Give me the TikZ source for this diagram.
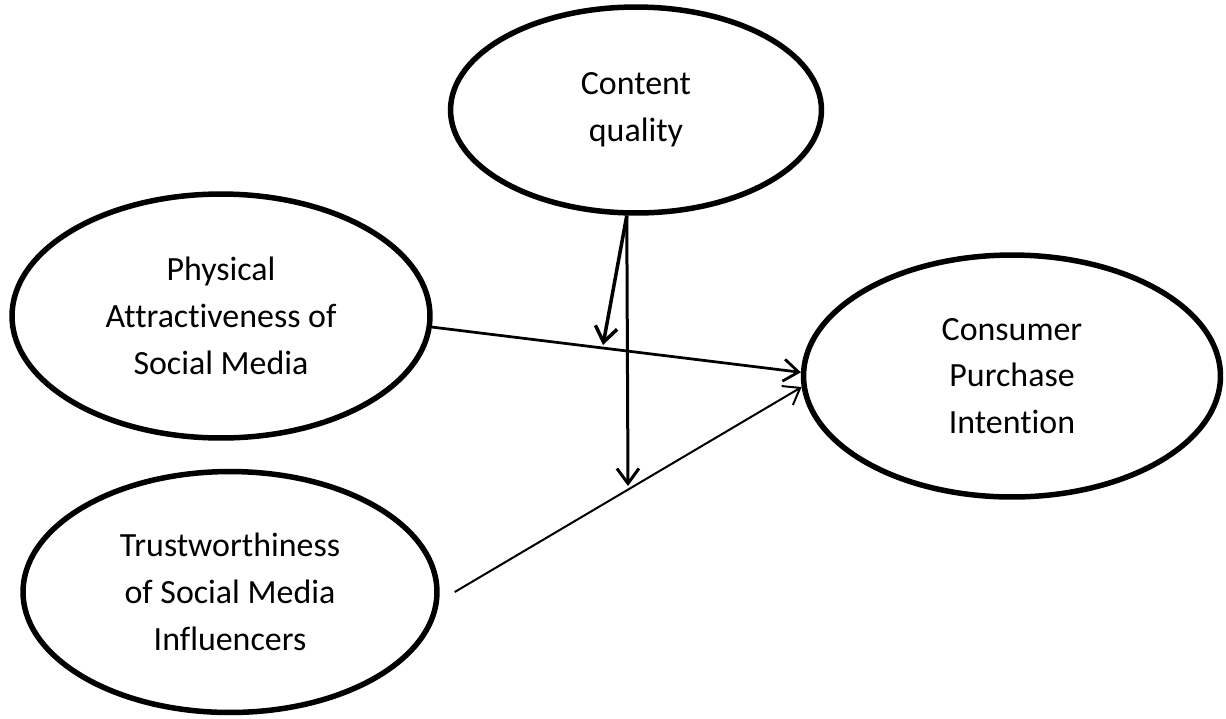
\documentclass[tikz,border=0pt]{standalone}
\usepackage{fontspec}
\setmainfont[Ligatures=NoCommon]{Carlito}
\usetikzlibrary{shapes.geometric,arrows.meta}
\begin{document}
\begin{tikzpicture}[x=0.02cm,y=-0.02cm,
		construct/.style={draw=black,ellipse,line width=0.11cm,inner sep=0pt,align=center,font=\fontsize{19.3}{26.6}\selectfont},
		link/.style={color=black,-{Straight Barb[length=0.3cm,width=0.44cm]}}]
	\useasboundingbox[fill=white] (0,0) rectangle (1226,718);
	\node[construct,minimum width=7.42cm,minimum height=4.12cm] (cq) at (636,110) {Content\\quality};
	\node[construct,minimum width=8.36cm,minimum height=4.88cm] (pa) at (221,316) {Physical\\Attractiveness of\\Social Media};
	\node[construct,minimum width=8.28cm,minimum height=4.82cm] (tw) at (230,592) {Trustworthiness\\of Social Media\\Influencers};
	\node[construct,minimum width=8.34cm,minimum height=4.84cm] (cpi) at (1012,376) {Consumer\\Purchase\\Intention};
	\coordinate (m1) at (603,345);
	\coordinate (m2) at (628,486);
	\draw[link,line width=0.07cm] (cq.265) -- (m1);
	\draw[link,line width=0.06cm] (cq.265) -- (m2);
	\draw[link,line width=0.055cm] (pa.-3) -- (cpi.179);
	\draw[link,line width=0.04cm] ([xshift=0.3cm]tw.east) -- (cpi.183);
\end{tikzpicture}
\end{document}
